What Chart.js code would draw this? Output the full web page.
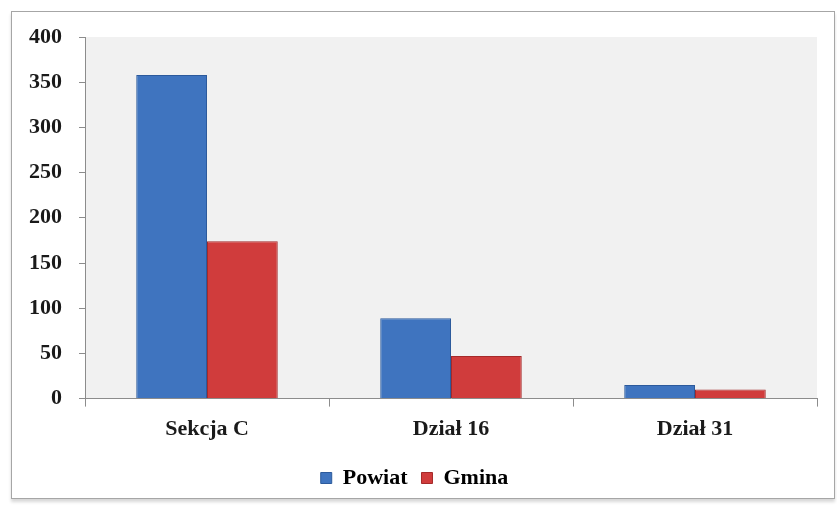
<!DOCTYPE html>
<html>
<head>
<meta charset="utf-8">
<script src="https://cdn.jsdelivr.net/npm/chart.js@4/dist/chart.umd.min.js"></script>
<style>
  html, body { margin: 0; padding: 0; background: #fff; }
  #wrap { position: relative; width: 837px; height: 506px; }
  #frame {
    position: absolute; left: 11px; top: 11px; width: 822px; height: 486px;
    border: 1px solid #a6a6a6; background: #fff;
    box-shadow: 0 3px 3px #d8d8d8;
  }
  canvas { position: absolute; left: 0; top: 0; }
</style>
</head>
<body>
<div id="wrap">
  <div id="frame"></div>
  <canvas id="chart" width="837" height="506"></canvas>
</div>
<script>
var categories = ['Sekcja C', 'Dział 16', 'Dział 31'];
var powiat = [358, 89, 15];
var gmina = [174, 47, 10];
var yTicks = [0, 50, 100, 150, 200, 250, 300, 350, 400];

(function() {
  var font = "'Liberation Serif', 'DejaVu Serif', serif";
  Chart.defaults.font.family = font;
  Chart.defaults.font.weight = 'bold';
  Chart.defaults.color = '#1a1a1a';

  var plotBg = {
    id: 'plotBg',
    beforeDraw: function(chart) {
      var a = chart.chartArea, c = chart.ctx;
      c.save();
      c.fillStyle = '#f1f1f1';
      c.fillRect(a.left, a.top, a.right - a.left, a.bottom - a.top);
      c.restore();
    }
  };

  new Chart(document.getElementById('chart'), {
    type: 'bar',
    data: {
      labels: categories,
      datasets: [
        {
          label: 'Powiat', data: powiat,
          backgroundColor: '#3f74bf', borderColor: '#2c5a9c', borderWidth: 1,
          categoryPercentage: 0.58, barPercentage: 1
        },
        {
          label: 'Gmina', data: gmina,
          backgroundColor: '#d03c3c', borderColor: '#a52a2a', borderWidth: 1,
          categoryPercentage: 0.58, barPercentage: 1
        }
      ]
    },
    options: {
      responsive: false,
      animation: false,
      layout: { padding: { left: 12, right: 20, top: 37, bottom: 7 } },
      plugins: {
        legend: {
          position: 'bottom',
          labels: {
            boxWidth: 11, boxHeight: 11, padding: 14,
            font: { size: 22, weight: 'bold' },
            generateLabels: function(chart) {
              return chart.data.datasets.map(function(ds, i) {
                return {
                  text: ds.label, fillStyle: ds.backgroundColor,
                  strokeStyle: ds.borderColor, lineWidth: 1, datasetIndex: i
                };
              });
            }
          }
        },
        tooltip: { enabled: false }
      },
      scales: {
        x: {
          grid: {
            offset: true, drawOnChartArea: false, tickLength: 8,
            color: '#8c8c8c'
          },
          border: { color: '#8c8c8c' },
          ticks: { font: { size: 22, weight: 'bold' }, padding: 10 }
        },
        y: {
          min: 0, max: 400,
          afterBuildTicks: function(axis) {
            axis.ticks = yTicks.map(function(v) { return { value: v }; });
          },
          grid: { drawOnChartArea: false, tickLength: 6, color: '#8c8c8c' },
          border: { color: '#8c8c8c' },
          ticks: { font: { size: 22, weight: 'bold' }, padding: 17 }
        }
      }
    },
    plugins: [plotBg]
  });
})();
</script>
</body>
</html>
